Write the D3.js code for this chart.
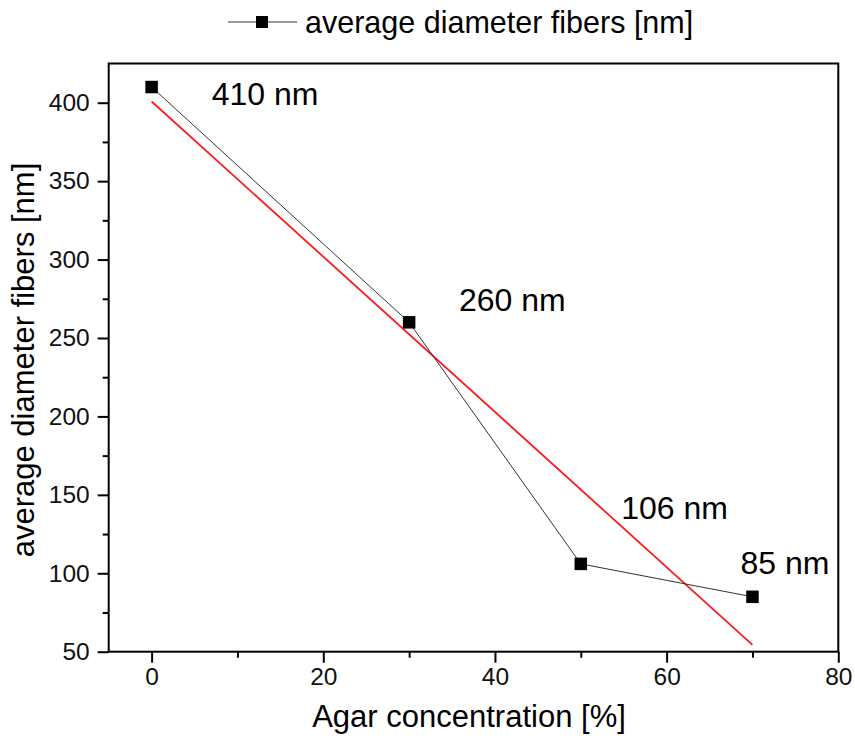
<!DOCTYPE html>
<html>
<head>
<meta charset="utf-8">
<script src="https://cdn.jsdelivr.net/npm/d3@7"></script>
<style>
  html, body { margin: 0; padding: 0; background: #fff; }
  svg { display: block; font-family: "Liberation Sans", Arial, Helvetica, sans-serif; }
</style>
</head>
<body>
<svg id="chart" width="855" height="745"></svg>
<script>
// Measured fiber diameters per agar concentration
const agarConcentration = [0, 30, 50, 70];
const fiberDiameter = [410, 260, 106, 85];
const pointLabels = ["410 nm", "260 nm", "106 nm", "85 nm"];

// Linear fit endpoints
const fitX = [0, 70];
const fitY = [400.8, 54.4];

// Axis ticks
const xMajorTicks = [0, 20, 40, 60, 80];
const xMinorTicks = [10, 30, 50, 70];
const yMajorTicks = [50, 100, 150, 200, 250, 300, 350, 400];
const yMinorTicks = [75, 125, 175, 225, 275, 325, 375];

const seriesName = "average diameter fibers [nm]";
const xTitle = "Agar concentration [%]";
const yTitle = "average diameter fibers [nm]";

const svg = d3.select("#chart");
const W = 855, H = 745;
const margin = { left: 108.7, right: W - 838.3, top: 63.5, bottom: H - 651.7 };

const x = d3.scaleLinear().domain([-5, 80]).range([margin.left, W - margin.right]);
const y = d3.scaleLinear().domain([50, 425]).range([H - margin.bottom, margin.top]);

const tickFont = 24.5;

// Axes: major ticks with labels, minor ticks without
const xAxisMajor = d3.axisBottom(x).tickValues(xMajorTicks).tickSize(11).tickSizeOuter(0).tickPadding(5);
const xAxisMinor = d3.axisBottom(x).tickValues(xMinorTicks).tickSize(6).tickSizeOuter(0).tickFormat("");
const yAxisMajor = d3.axisLeft(y).tickValues(yMajorTicks).tickSize(11).tickSizeOuter(0).tickPadding(8);
const yAxisMinor = d3.axisLeft(y).tickValues(yMinorTicks).tickSize(6).tickSizeOuter(0).tickFormat("");

function styleAxis(g) {
  g.select(".domain").remove();
  g.selectAll(".tick line").attr("stroke", "#000").attr("stroke-width", 2);
  g.selectAll(".tick text").attr("fill", "#111").attr("font-size", tickFont)
    .attr("font-family", "'Liberation Sans', Arial, sans-serif");
}

svg.append("g").attr("transform", `translate(0,${H - margin.bottom})`).call(xAxisMajor).call(styleAxis);
svg.append("g").attr("transform", `translate(0,${H - margin.bottom})`).call(xAxisMinor).call(styleAxis);
svg.append("g").attr("transform", `translate(${margin.left},0)`).call(yAxisMajor).call(styleAxis);
svg.append("g").attr("transform", `translate(${margin.left},0)`).call(yAxisMinor).call(styleAxis);

// Frame
svg.append("rect")
  .attr("x", margin.left).attr("y", margin.top)
  .attr("width", W - margin.right - margin.left)
  .attr("height", H - margin.bottom - margin.top)
  .attr("fill", "none").attr("stroke", "#000").attr("stroke-width", 2);

// Fit line
svg.append("line")
  .attr("x1", x(fitX[0])).attr("y1", y(fitY[0]))
  .attr("x2", x(fitX[1])).attr("y2", y(fitY[1]))
  .attr("stroke", "#ff1a1a").attr("stroke-width", 1.8);

// Data line
const pts = agarConcentration.map((c, i) => [c, fiberDiameter[i]]);
svg.append("path")
  .datum(pts)
  .attr("d", d3.line().x(d => x(d[0])).y(d => y(d[1])))
  .attr("fill", "none").attr("stroke", "#333").attr("stroke-width", 1);

// Markers
const ms = 12.5;
svg.selectAll("rect.marker").data(pts).enter().append("rect")
  .attr("class", "marker")
  .attr("x", d => x(d[0]) - ms / 2).attr("y", d => y(d[1]) - ms / 2)
  .attr("width", ms).attr("height", ms).attr("fill", "#000");

// Value annotations, anchored in data units (left edge, baseline)
const labelAnchors = [[7, 398.5], [35.8, 267.2], [54.7, 134.6], [68.6, 99.5]];
svg.selectAll("text.vlabel").data(pointLabels).enter().append("text")
  .attr("class", "vlabel")
  .attr("x", (d, i) => x(labelAnchors[i][0]))
  .attr("y", (d, i) => y(labelAnchors[i][1]))
  .attr("font-size", 32).attr("fill", "#000")
  .text(d => d);

// Axis titles
svg.append("text")
  .attr("x", 469).attr("y", 727)
  .attr("text-anchor", "middle").attr("font-size", 31).attr("fill", "#000")
  .text(xTitle);

svg.append("text")
  .attr("transform", `translate(34,360) rotate(-90)`)
  .attr("text-anchor", "middle").attr("font-size", 31).attr("fill", "#000")
  .text(yTitle);

// Legend
const lg = svg.append("g");
lg.append("line").attr("x1", 228).attr("x2", 297).attr("y1", 22).attr("y2", 22)
  .attr("stroke", "#333").attr("stroke-width", 1);
lg.append("rect").attr("x", 262 - 6).attr("y", 22 - 6).attr("width", 12).attr("height", 12).attr("fill", "#000");
lg.append("text").attr("x", 305).attr("y", 33).attr("font-size", 30.5).attr("fill", "#000").text(seriesName);
</script>
</body>
</html>
